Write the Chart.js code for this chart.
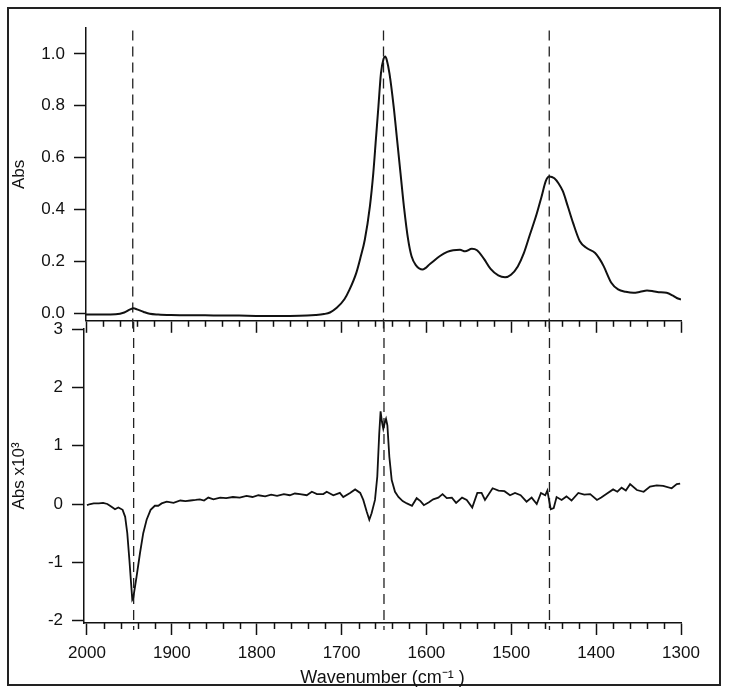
<!DOCTYPE html>
<html>
<head>
<meta charset="utf-8">
<script src="https://cdn.jsdelivr.net/npm/chart.js@4.4.0/dist/chart.umd.min.js"></script>
<style>
  body { margin: 0; background: #fff; }
  #wrap { position: relative; width: 729px; height: 696px; }
  #frame { position: absolute; left: 7px; top: 7px; width: 714px; height: 679px; border: 2px solid #222; box-sizing: border-box; }
  canvas { position: absolute; left: 0; }
  #top { top: 0; }
  #bottom { top: 300px; }
</style>
</head>
<body>
<div id="wrap">
  <div id="frame"></div>
  <canvas id="top" width="729" height="340" style="width:729px;height:340px"></canvas>
  <canvas id="bottom" width="729" height="393" style="width:729px;height:393px"></canvas>
</div>
<script>
// absorbance spectrum (top panel)
const absWavenumber = [2000, 1980, 1965, 1955, 1948, 1944, 1940, 1932, 1925, 1915, 1900, 1880, 1860, 1840, 1820, 1800, 1780, 1760, 1740, 1730, 1720, 1713, 1705, 1696, 1690, 1682, 1677, 1672, 1666, 1662, 1659, 1656, 1653, 1650, 1648, 1646, 1643, 1638, 1634, 1630, 1626, 1621, 1617, 1612, 1604, 1595, 1584, 1575, 1568, 1560, 1554, 1546, 1540, 1532, 1524, 1515, 1507, 1500, 1492, 1485, 1478, 1470, 1464, 1459, 1455, 1449, 1444, 1439, 1433, 1427, 1419, 1411, 1401, 1396, 1391, 1382, 1374, 1365, 1356, 1348, 1340, 1334, 1328, 1317, 1310, 1305, 1300];
const absValues = [-0.006, -0.006, -0.005, 0.002, 0.014, 0.018, 0.014, 0.004, -0.003, -0.006, -0.008, -0.009, -0.009, -0.010, -0.010, -0.011, -0.011, -0.011, -0.010, -0.008, -0.004, 0.002, 0.02, 0.053, 0.09, 0.155, 0.215, 0.283, 0.412, 0.54, 0.668, 0.796, 0.925, 0.98, 0.99, 0.975, 0.925, 0.796, 0.668, 0.54, 0.412, 0.283, 0.219, 0.185, 0.168, 0.19, 0.219, 0.236, 0.242, 0.244, 0.238, 0.248, 0.242, 0.21, 0.17, 0.145, 0.138, 0.148, 0.18, 0.23, 0.3, 0.38, 0.45, 0.51, 0.527, 0.52, 0.5, 0.47, 0.41, 0.348, 0.277, 0.251, 0.232, 0.21, 0.181, 0.117, 0.091, 0.082, 0.078, 0.082, 0.087, 0.085, 0.081, 0.078, 0.068, 0.058, 0.052];

// difference spectrum (bottom panel, Abs x 10^3)
const diffWavenumber = [2000, 1996, 1992, 1986, 1981, 1976, 1972, 1969, 1967, 1963, 1958, 1955, 1952.5, 1950, 1948, 1946.6, 1945.4, 1944.3, 1941.5, 1937.5, 1933.7, 1929.7, 1925, 1920, 1916, 1912, 1906, 1898, 1890, 1884, 1878, 1872, 1867, 1862, 1857, 1851, 1843, 1836, 1828, 1820, 1812, 1805, 1798, 1790, 1783, 1776, 1768, 1761, 1755, 1749, 1741, 1735, 1729, 1721.5, 1717.5, 1709.7, 1702, 1698, 1690, 1684, 1678, 1674.4, 1670.4, 1667.3, 1664.6, 1660.6, 1657.9, 1655.6, 1654, 1652.4, 1650.8, 1648.8, 1647.6, 1646, 1643.7, 1640.9, 1637, 1633, 1628, 1623, 1617, 1611.5, 1607, 1603, 1597, 1592, 1586, 1581, 1576, 1570, 1565, 1558, 1552.5, 1546, 1540, 1535, 1531, 1522, 1515, 1508, 1501.5, 1495.6, 1489, 1482, 1476, 1470, 1465, 1460, 1457.5, 1453.5, 1450, 1446.6, 1440.7, 1435, 1429, 1421, 1414, 1407, 1399, 1394, 1388, 1380, 1375, 1370, 1365, 1360, 1352, 1344, 1336.5, 1328.6, 1321, 1311, 1305, 1301];
const diffValues = [-0.02, 0.00, 0.01, 0.01, 0.02, 0.00, -0.04, -0.07, -0.09, -0.06, -0.10, -0.22, -0.50, -0.96, -1.36, -1.64, -1.61, -1.50, -1.24, -0.84, -0.50, -0.27, -0.10, -0.03, -0.03, 0.01, 0.04, 0.02, 0.06, 0.05, 0.06, 0.07, 0.08, 0.06, 0.11, 0.08, 0.11, 0.10, 0.12, 0.11, 0.14, 0.12, 0.15, 0.13, 0.16, 0.14, 0.17, 0.15, 0.18, 0.17, 0.15, 0.21, 0.17, 0.17, 0.21, 0.15, 0.19, 0.12, 0.19, 0.25, 0.19, 0.07, -0.13, -0.27, -0.16, 0.07, 0.47, 1.21, 1.59, 1.41, 1.29, 1.41, 1.46, 1.35, 0.81, 0.41, 0.21, 0.12, 0.05, 0.01, -0.03, 0.10, 0.05, -0.02, 0.03, 0.08, 0.11, 0.17, 0.10, 0.11, 0.02, 0.11, 0.07, -0.06, 0.19, 0.19, 0.07, 0.27, 0.23, 0.22, 0.15, 0.19, 0.15, 0.04, 0.11, 0.00, 0.19, 0.15, 0.23, -0.09, -0.07, 0.12, 0.07, 0.13, 0.06, 0.19, 0.16, 0.17, 0.07, 0.11, 0.17, 0.25, 0.21, 0.28, 0.23, 0.34, 0.24, 0.21, 0.30, 0.32, 0.31, 0.27, 0.34, 0.35];

const markerLines = [1945, 1650, 1455];
const xMajorTicks = [2000, 1900, 1800, 1700, 1600, 1500, 1400, 1300];
const xMinorStep = 20;
const absTicks = [0, 0.2, 0.4, 0.6, 0.8, 1.0];
const diffTicks = [-2, -1, 0, 1, 2, 3];

const ink = '#111';
const family = '"Liberation Sans", Arial, Helvetica, sans-serif';
Chart.defaults.font.family = family;
Chart.defaults.font.size = 17;
Chart.defaults.color = ink;

const minorTicks = {
  id: 'minorTicks',
  afterDraw(chart) {
    const x = chart.scales.x;
    const y0 = chart.chartArea.bottom;
    const ctx = chart.ctx;
    ctx.save();
    ctx.strokeStyle = ink;
    ctx.lineWidth = 1.5;
    for (let v = 1300; v <= 2000; v += xMinorStep) {
      if (v % 100 === 0) continue;
      const px = Math.round(x.getPixelForValue(v)) + 0.5;
      ctx.beginPath();
      ctx.moveTo(px, y0);
      ctx.lineTo(px, y0 + 6);
      ctx.stroke();
    }
    ctx.restore();
  }
};

function pairs(xs, ys) {
  return xs.map((x, i) => ({ x: x, y: ys[i] }));
}

function markerSets(y1, y2) {
  return markerLines.map((m) => ({
    data: [{ x: m, y: y1 }, { x: m, y: y2 }],
    borderColor: '#222',
    borderWidth: 1.3,
    borderDash: [10, 6],
    pointRadius: 0,
    clip: false,
  }));
}

function xAxis(max, showLabels, height) {
  return {
    type: 'linear',
    reverse: true,
    min: 1300,
    max: max,
    afterBuildTicks: (s) => { s.ticks = xMajorTicks.map((v) => ({ value: v })); },
    ticks: {
      display: showLabels,
      autoSkip: false,
      maxRotation: 0,
      padding: 8,
      callback: (v) => String(v),
    },
    grid: { drawOnChartArea: false, tickLength: 12, tickColor: ink, tickWidth: 1.5 },
    border: { color: ink, width: 1.5 },
    title: {
      display: showLabels,
      text: 'Wavenumber (cm⁻¹ )',
      font: { size: 18 },
      padding: { top: 0, bottom: 4 },
    },
    afterFit: (s) => { s.height = height; },
  };
}

function yAxis(min, max, ticks, fmt, label, width) {
  return {
    min: min,
    max: max,
    afterBuildTicks: (s) => { s.ticks = ticks.map((v) => ({ value: v })); },
    ticks: { padding: 9, callback: fmt },
    grid: { drawOnChartArea: false, tickLength: 12, tickColor: ink, tickWidth: 1.5 },
    border: { color: ink, width: 1.5 },
    title: { display: true, text: label, padding: { top: 4, bottom: 4 } },
    afterFit: (s) => { s.width = width; },
  };
}

const common = {
  responsive: false,
  animation: false,
  events: [],
  plugins: { legend: { display: false }, tooltip: { enabled: false } },
};

new Chart(document.getElementById('top'), {
  type: 'line',
  data: {
    datasets: [
      {
        data: pairs(absWavenumber, absValues),
        borderColor: ink,
        borderWidth: 2,
        pointRadius: 0,
        cubicInterpolationMode: 'monotone',
      },
      ...markerSets(-0.06, 1.1),
    ],
  },
  options: {
    ...common,
    layout: { padding: { left: 5, right: 48, top: 28, bottom: 0 } },
    scales: {
      x: xAxis(2000, false, 18),
      y: yAxis(-0.03, 1.1, absTicks, (v) => v.toFixed(1), 'Abs', 81),
    },
  },
  plugins: [minorTicks],
});

new Chart(document.getElementById('bottom'), {
  type: 'line',
  data: {
    datasets: [
      {
        data: pairs(diffWavenumber, diffValues),
        borderColor: ink,
        borderWidth: 1.8,
        pointRadius: 0,
        tension: 0,
      },
      ...markerSets(3.12, -2.16),
    ],
  },
  options: {
    ...common,
    layout: { padding: { left: 5, right: 48, top: 29, bottom: 0 } },
    scales: {
      x: xAxis(2003.5, true, 70),
      y: yAxis(-2.04, 3, diffTicks, (v) => String(v), 'Abs x10³', 79),
    },
  },
  plugins: [minorTicks],
});
</script>
</body>
</html>
